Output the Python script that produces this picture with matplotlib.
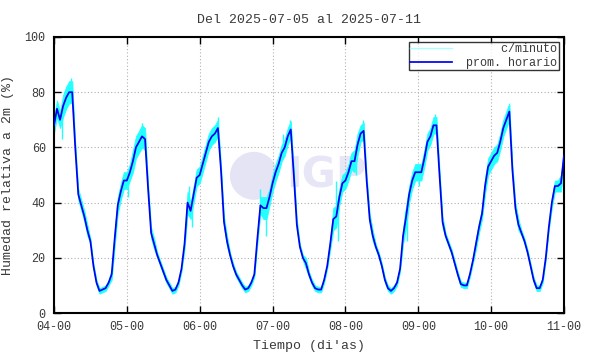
import matplotlib
matplotlib.use('Agg')
import matplotlib.pyplot as plt
from matplotlib.patches import Ellipse
import numpy as np

plt.rcParams['font.family'] = ['Liberation Mono', 'DejaVu Sans Mono']

# hourly means, one list per day (04 .. 10), plus the last point at 11-00
d04 = [68, 74, 70, 75, 78, 80, 80, 60, 43, 39, 35, 30, 26, 17, 11, 8, 8.5, 9, 11, 14, 27, 39, 44, 48]
d05 = [48, 51, 55, 60, 62, 64, 63, 45, 29, 25, 21, 18, 15, 12, 10, 8, 8.5, 11, 16, 25, 40, 37, 43, 49]
d06 = [50, 54, 58, 62, 64, 65, 67, 52, 33, 26, 21, 17, 14, 12, 10, 8.5, 9, 11, 14, 27, 39, 38, 38, 42]
d07 = [47, 51, 54, 58, 60, 64, 66.5, 50, 32, 24, 20, 18, 14, 11, 9, 8.5, 8.5, 12, 17, 25, 34, 35, 42, 47]
d08 = [48, 51, 55, 55, 61, 65, 66, 48, 34, 28, 24, 21, 17, 12, 9, 8, 9, 11, 16, 28, 35, 43, 48, 51]
d09 = [51, 51, 56, 62, 64, 68, 68, 50, 33, 28, 25, 22, 18, 14, 10.5, 10, 10, 14, 19, 25, 31, 36, 46, 53]
d10 = [55, 57, 58, 62, 67, 70, 73, 52, 38, 32, 29, 26, 22, 17, 12, 9, 9, 12, 20, 31, 40, 46, 46, 47]
last = [57]

# spread of the per-minute readings around the hourly mean
n04 = [3, 3, 3, 4, 4, 4, 4, 2, 2, 2, 2, 2, 1, 1, 1, 1, 1, 1, 1, 2, 3, 3, 3, 3]
n05 = [3, 3, 4, 4, 4, 4, 4, 2, 2, 2, 1, 1, 1, 1, 1, 1, 1, 1, 1, 2, 4, 3, 3, 3]
n06 = [3, 3, 3, 3, 3, 3, 3, 2, 2, 2, 1, 1, 1, 1, 1, 1, 1, 1, 1, 2, 3, 4, 4, 3]
n07 = [3, 3, 3, 3, 3, 3, 3, 2, 2, 1, 1, 2, 1, 1, 1, 1, 1, 1, 1, 2, 4, 4, 3, 3]
n08 = [3, 3, 3, 4, 4, 3, 3, 2, 2, 2, 1, 1, 1, 1, 1, 1, 1, 1, 1, 3, 4, 3, 3, 3]
n09 = [3, 3, 3, 3, 3, 3, 3, 2, 2, 1, 1, 1, 1, 1, 1, 1, 1, 1, 1, 2, 2, 2, 3, 3]
n10 = [3, 3, 3, 3, 3, 3, 3, 2, 2, 2, 1, 1, 1, 1, 1, 1, 1, 1, 1, 1, 2, 2, 2, 3]
nlast = [3]

# isolated per-minute spikes: hour since 04-00 and reading
spike_h = [2.8, 5.5, 24.4, 29.0, 45.5, 44.4, 54.0, 70.0, 68.0, 75.5, 77.9, 93.0, 93.7,
           99.5, 101.9, 115.6, 116.4, 120.2, 125.5, 149.5, 168.0]
spike_v = [63, 85, 42, 69, 31, 46, 71, 28, 45, 65, 70, 48, 26,
           50, 70, 37, 26, 46, 72, 75, 61]

tick_labels = ['04-00', '05-00', '06-00', '07-00', '08-00', '09-00', '10-00', '11-00']

hourly = np.array(d04 + d05 + d06 + d07 + d08 + d09 + d10 + last, dtype=float)
spread = np.array(n04 + n05 + n06 + n07 + n08 + n09 + n10 + nlast, dtype=float)
hours = np.arange(len(hourly))

fig = plt.figure(figsize=(5.9, 3.54), dpi=100)
ax = fig.add_axes([0.0915, 0.1158, 0.8644, 0.7797])

# faint logo watermark
ax.add_patch(Ellipse((0.392, 0.497), 48 / 510, 48 / 276, transform=ax.transAxes,
                     color='#e4e4f5', zorder=0, lw=0))
ax.text(0.455, 0.497, 'IGP', transform=ax.transAxes, fontsize=30, fontweight='bold',
        family='DejaVu Sans', color='#e6e6f6', va='center', ha='left', zorder=0)

text_col = '#3a3a3a'
cyan = '#22ffff'

ax.fill_between(hours, hourly - spread, hourly + spread, color=cyan, lw=0.6,
                edgecolor=cyan, zorder=2)
ax.vlines(spike_h, np.interp(spike_h, hours, hourly), spike_v, color=cyan, lw=1.0, zorder=2)
ax.plot([], [], color='#aaffff', lw=1.0, label='     c/minuto')
ax.plot(hours, hourly, color='#0000ee', lw=1.25, zorder=3, label='prom. horario')

ax.set_xlim(0, 168)
ax.set_ylim(0, 100)
ax.set_xticks(np.arange(0, 169, 24))
ax.set_xticklabels(tick_labels)
ax.set_yticks(np.arange(0, 101, 20))
ax.tick_params(direction='in', length=5, width=1, top=True, right=True,
               labelsize=8.5, labelcolor=text_col, pad=6)
ax.grid(True, color='#b0b0b0', linestyle=(0, (1, 2)), lw=0.8)
for s in ax.spines.values():
    s.set_linewidth(1.5)

ax.set_title('Del 2025-07-05 al 2025-07-11', fontsize=9.5, color=text_col, pad=10)
ax.set_xlabel("Tiempo (di'as)", fontsize=9.5, color=text_col, labelpad=5)
ax.set_ylabel('Humedad relativa a 2m (%)', fontsize=9.5, color=text_col, labelpad=8)

leg = ax.legend(loc='upper right', fontsize=8.5, handlelength=3.6, frameon=True,
                fancybox=False, borderaxespad=0.45, borderpad=0.1, labelspacing=0.1,
                handletextpad=1.2, labelcolor=text_col)
leg.get_frame().set_edgecolor('black')
leg.get_frame().set_linewidth(1.0)

fig.savefig('out.png', dpi=100)
